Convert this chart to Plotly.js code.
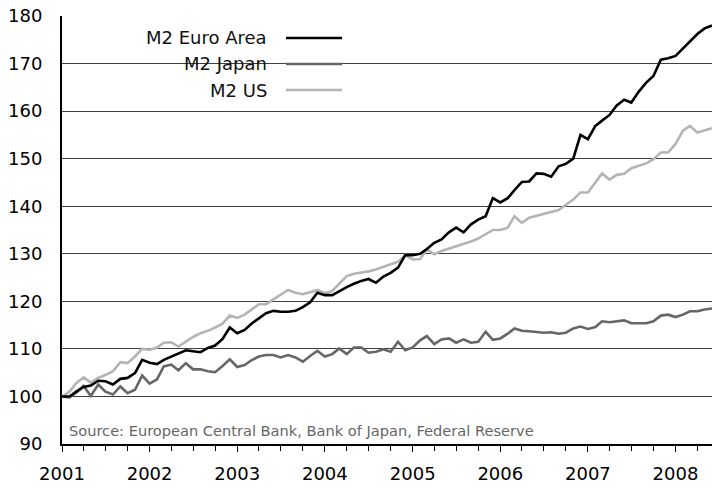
<!DOCTYPE html>
<html>
<head>
<meta charset="utf-8">
<script src="https://cdn.plot.ly/plotly-3.0.1.min.js"></script>
<style>html,body{margin:0;padding:0;background:#fff;}#chart{width:712px;height:491px;}</style>
</head>
<body>
<div id="chart"></div>
<script>
// Monthly index (Jan 2001 = 100), Jan 2001 .. Jun 2008
const startMonth = '2001-01';
const seriesNames = ['M2 Euro Area', 'M2 Japan', 'M2 US'];
const euroArea = [100.0,100.0,101.0,102.0,102.3,103.3,103.2,102.5,103.7,103.9,104.9,107.7,
  107.1,106.8,107.7,108.4,109.0,109.7,109.5,109.3,110.2,110.7,112.1,114.5,
  113.3,114.0,115.3,116.5,117.5,118.0,117.8,117.8,118.0,118.8,119.8,121.8,
  121.3,121.3,122.2,123.0,123.7,124.3,124.7,123.9,125.2,126.0,127.1,129.7,
  129.7,130.0,131.0,132.3,133.0,134.5,135.5,134.5,136.2,137.2,137.9,141.7,
  140.8,141.7,143.4,145.1,145.2,146.9,146.8,146.2,148.4,148.9,150.0,155.0,
  154.1,156.9,158.0,159.2,161.2,162.4,161.8,164.1,166.0,167.4,170.8,171.1,
  171.6,173.2,174.6,176.2,177.4,178.0];
const japan = [100.0,99.8,100.8,102.2,100.1,102.5,101.0,100.4,102.1,100.7,101.4,104.4,
  102.7,103.6,106.3,106.7,105.5,107.0,105.7,105.7,105.3,105.1,106.4,107.8,
  106.2,106.6,107.6,108.4,108.7,108.7,108.2,108.7,108.2,107.3,108.5,109.6,
  108.4,108.9,110.1,108.9,110.3,110.3,109.2,109.4,109.9,109.4,111.5,109.7,
  110.3,111.8,112.7,111.0,112.0,112.2,111.3,112.0,111.3,111.5,113.6,111.9,
  112.2,113.2,114.3,113.8,113.7,113.6,113.4,113.5,113.2,113.4,114.3,114.7,
  114.2,114.6,115.8,115.6,115.8,116.0,115.4,115.4,115.4,115.8,117.0,117.2,
  116.7,117.2,117.9,117.9,118.3,118.5];
const us = [100.0,101.0,102.8,104.0,102.9,103.9,104.5,105.3,107.2,107.0,108.4,110.0,
  109.8,110.3,111.3,111.4,110.5,111.6,112.5,113.3,113.8,114.5,115.3,117.0,
  116.5,117.2,118.2,119.4,119.4,120.4,121.5,122.4,121.8,121.5,121.9,122.4,
  121.7,122.2,123.7,125.3,125.8,126.0,126.3,126.7,127.3,127.8,128.3,129.7,
  128.8,128.9,130.9,129.9,130.6,131.1,131.6,132.0,132.6,133.2,134.2,135.0,
  135.0,135.5,137.9,136.5,137.6,138.0,138.3,138.8,139.2,140.3,141.4,142.9,
  142.9,145.0,146.9,145.6,146.6,146.8,148.0,148.5,149.0,149.9,151.3,151.3,
  153.1,155.9,156.9,155.5,155.9,156.4];
const yTicks = [90,100,110,120,130,140,150,160,170,180];
const sourceText = 'Source: European Central Bank, Bank of Japan, Federal Reserve';

function monthDates(start, n) {
  const [y0, m0] = start.split('-').map(Number);
  const out = [];
  for (let i = 0; i < n; i++) {
    const t = (m0 - 1) + i;
    const y = y0 + Math.floor(t / 12);
    const m = (t % 12) + 1;
    out.push(y + '-' + String(m).padStart(2, '0') + '-01');
  }
  return out;
}
const dates = monthDates(startMonth, euroArea.length);

const FONT = 'DejaVu Sans, Liberation Sans, sans-serif';
const colors = ['#000000', '#666666', '#b4b4b4'];
const values = [euroArea, japan, us];

const traces = values.map((v, k) => ({
  x: dates, y: v, type: 'scatter', mode: 'lines', name: seriesNames[k],
  line: {color: colors[k], width: 2.6}, showlegend: false
}));
// draw order: Japan, US, Euro on top
const ordered = [traces[1], traces[2], traces[0]];

// custom legend (text to the left of the sample line)
const legRows = [0.9486, 0.8879, 0.8271];
const annotations = seriesNames.map((n, k) => ({
  xref: 'paper', yref: 'paper', x: 0.3185, y: legRows[k], xanchor: 'right', yanchor: 'middle',
  text: n, showarrow: false, font: {family: FONT, size: 18, color: '#111'}
}));
annotations.push({
  xref: 'paper', yref: 'paper', x: 0.008, y: 0.032, xanchor: 'left', yanchor: 'middle',
  text: sourceText, showarrow: false, font: {family: FONT, size: 14.6, color: '#666'}
});
const shapes = [{
  type: 'rect', xref: 'paper', yref: 'paper', x0: 0.0246, x1: 0.455, y0: 0.804, y1: 0.972,
  fillcolor: '#ffffff', line: {width: 0}, layer: 'between'
}];
seriesNames.forEach((n, k) => shapes.push({
  type: 'line', xref: 'paper', yref: 'paper', x0: 0.3446, x1: 0.4308, y0: legRows[k], y1: legRows[k],
  line: {color: colors[k], width: 2.6}, layer: 'above'
}));

const layout = {
  width: 712, height: 491,
  margin: {l: 62, r: 0, t: 16, b: 47},
  paper_bgcolor: '#fff', plot_bgcolor: '#fff',
  showlegend: false,
  font: {family: FONT, size: 18, color: '#000'},
  xaxis: {
    type: 'date', range: [dates[0], dates[dates.length - 1]],
    dtick: 'M12', tick0: '2001-01-01', tickformat: '%Y',
    ticks: 'outside', ticklen: 6, tickcolor: '#000', tickwidth: 1,
    ticklabelstandoff: 7,
    minor: {dtick: 'M3', ticks: 'outside', ticklen: 5, tickcolor: '#000', showgrid: false},
    showgrid: false, zeroline: false,
    showline: true, linecolor: '#000', linewidth: 1.5,
    tickfont: {family: FONT, size: 18, color: '#000'}
  },
  yaxis: {
    range: [90, 180], tickvals: yTicks, ticktext: yTicks.map(String),
    ticks: '', ticklabelstandoff: 14,
    showgrid: true, gridcolor: '#404040', gridwidth: 1, zeroline: false,
    showline: true, linecolor: '#000', linewidth: 2,
    tickfont: {family: FONT, size: 18, color: '#000'}
  },
  annotations: annotations,
  shapes: shapes
};
Plotly.newPlot('chart', ordered, layout, {displayModeBar: false, staticPlot: true});
</script>
</body>
</html>
